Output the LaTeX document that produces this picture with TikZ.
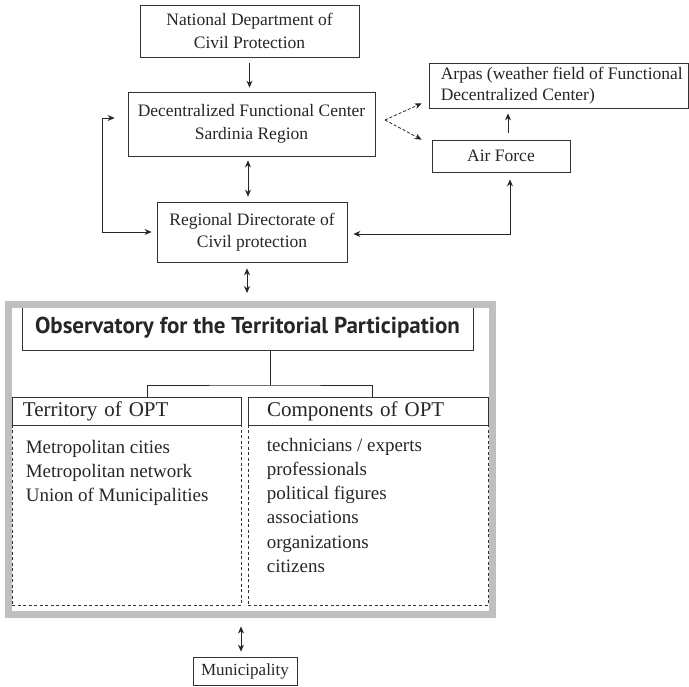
\documentclass[tikz,border=0pt]{standalone}
\usepackage{fontspec}
\setmainfont{Liberation Serif}
\newfontfamily\titlefont{PT Sans}
\usetikzlibrary{positioning,arrows.meta,calc}
\tikzset{>={Stealth[length=7pt,width=6pt]}}
\tikzset{
  box/.style={draw=black!80, line width=0.8pt, text=black!85, inner sep=0pt,
    align=center, font=\fontsize{17.5}{22.5}\selectfont},
  head/.style={box, align=left, minimum height=28, font=\fontsize{21}{24}\selectfont},
  list/.style={draw=black!80, line width=0.7pt, dash pattern=on 3pt off 2.5pt, inner sep=0pt},
  listtext/.style={anchor=north west, align=left, inner sep=0pt, text=black!85,
    font=\fontsize{19}{24.3}\selectfont},
  link/.style={black!85, line width=0.8pt},
}

\begin{document}
\begin{tikzpicture}[x=1pt,y=-1pt]
\useasboundingbox (0,0) rectangle (689,687);
% civil protection chain
\node[box, minimum width=219, minimum height=52] (ndcp) at (249.5,31) {National Department of\\Civil Protection};
\node[box, minimum width=247, minimum height=64] (dfc) at (251.5,124) {Decentralized Functional Center\\Sardinia Region};
\node[box, minimum width=190, minimum height=60] (rdcp) at (252,232) {Regional Directorate of\\Civil protection};
\node[box, minimum width=138, minimum height=32] (af) at (501,156) {Air Force};
\node[box, minimum width=259.5, minimum height=45] (arpas) at (558.75,85.5) {};
\node[listtext, anchor=west, font=\fontsize{17.5}{21}\selectfont] (arpastxt) at ([xshift=12pt]arpas.west) {Arpas (weather field of Functional\\Decentralized Center)};

\draw[->, link, shorten <=6pt, shorten >=4pt] (ndcp.south) -- (ndcp.south |- dfc.north);
\draw[<->, link, shorten <=4pt, shorten >=5pt] ([xshift=-3.5pt]dfc.south) -- ([xshift=-3.5pt]dfc.south |- rdcp.north);
\draw[<->, link] ([xshift=-13pt,yshift=6pt]dfc.west) -- ++(-12,0) |- ([xshift=-5pt]rdcp.west);

\coordinate (split) at (385,120);
\draw[->, link, dash pattern=on 3pt off 2pt] (split) -- ([xshift=-7pt,yshift=5pt]arpas.south west);
\draw[->, link, dash pattern=on 3pt off 2pt] (split) -- ([xshift=-10pt]af.north west);
\draw[->, link, shorten <=7pt, shorten >=5pt] ([xshift=7pt]af.north) -- ([xshift=7pt]af.north |- arpas.south);
\draw[<->, link, shorten <=7pt, shorten >=6pt] ([xshift=9pt]af.south) |- ([yshift=-2pt]rdcp.east);

% observatory
\node[box, minimum width=451, minimum height=44, font=\titlefont\bfseries\fontsize{23}{26}\selectfont] (obs) at (247.5,328) {Observatory for the Territorial Participation};

\node[list, minimum width=229, minimum height=180] (terrlist) at (126.5,515) {};
\node[list, minimum width=240, minimum height=180] (complist) at (368,515) {};
\node[head, minimum width=229, text width=207] (terr) at (126.5,411) {Territory of OPT};
\node[head, minimum width=240, text width=202] (comp) at (368,411) {Components of OPT};

\coordinate (fork) at (270,385);
\draw[link] (obs.south -| fork) -- (fork);
\draw[link] ([xshift=20.5pt]terr.north) |- (fork) -| ([xshift=4pt]comp.north);

\node[listtext] (terrtxt) at ([xshift=14pt,yshift=-15pt]terrlist.north west) {Metropolitan cities\\Metropolitan network\\Union of Municipalities};
\node[listtext] (comptxt) at ([xshift=19pt,yshift=-13pt]complist.north west) {technicians / experts\\professionals\\political figures\\associations\\organizations\\citizens};

% grey frame round the observatory
\node[draw=black!25, line width=7pt, minimum width=484.5, minimum height=309.5, inner sep=0pt] (opt) at (250.25,459.75) {};
\draw[<->, link, shorten <=6pt, shorten >=8.5pt] ([xshift=-5pt]rdcp.south) -- ([xshift=-5pt]rdcp.south |- opt.north);

% municipality
\node[box, minimum width=104, minimum height=28, font=\fontsize{17}{20}\selectfont] (muni) at (245,671) {Municipality};
\draw[<->, link, shorten <=8.5pt, shorten >=5pt] ([xshift=-4pt]muni.north |- opt.south) -- ([xshift=-4pt]muni.north);
\end{tikzpicture}
\end{document}
